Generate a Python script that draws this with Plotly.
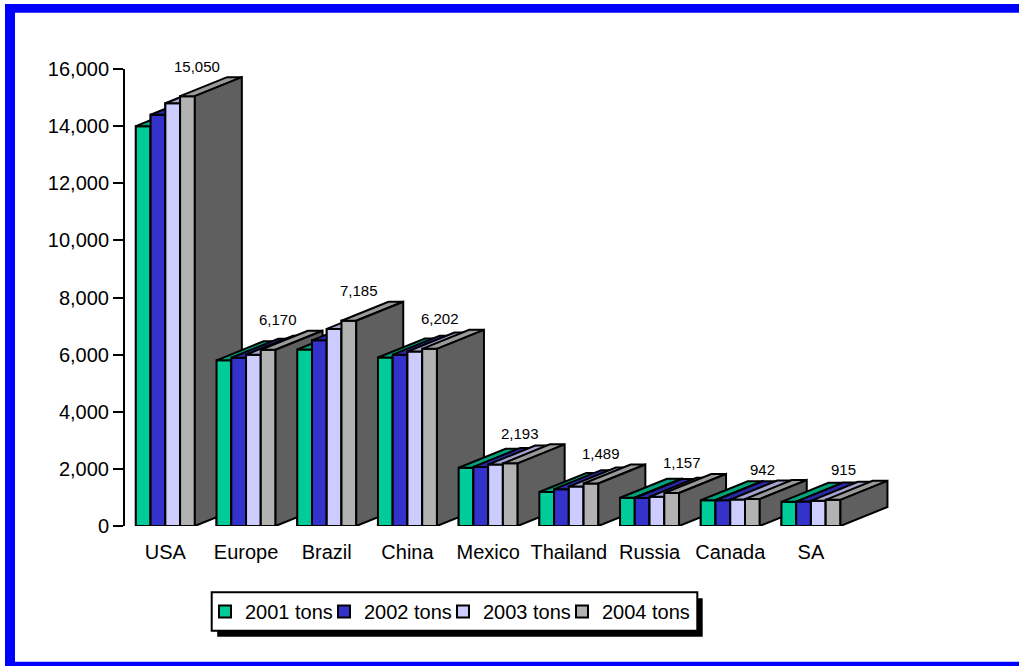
import plotly.graph_objects as go

# ---------------- data ----------------
categories = ["USA", "Europe", "Brazil", "China", "Mexico", "Thailand", "Russia", "Canada", "SA"]
series_names = ["2001 tons", "2002 tons", "2003 tons", "2004 tons"]
tons_2001 = [14000, 5800, 6180, 5900, 2040, 1190, 990, 900, 845]
tons_2002 = [14400, 5890, 6500, 6000, 2070, 1290, 980, 900, 855]
tons_2003 = [14800, 6000, 6900, 6110, 2150, 1380, 1020, 925, 880]
tons_2004 = [15050, 6170, 7185, 6202, 2193, 1489, 1157, 942, 915]
y_tick_vals = [0, 2000, 4000, 6000, 8000, 10000, 12000, 14000, 16000]

series_values = [tons_2001, tons_2002, tons_2003, tons_2004]

# ---------------- style ----------------
front_colors = ["#00CC99", "#3333CC", "#CCCCFF", "#B2B2B2"]
top_colors = ["#00A37A", "#2929A3", "#A3A3CC", "#999999"]
side_colors = ["#006B50", "#1F1F7A", "#7A7A99", "#5F5F5F"]
FONT = "Liberation Sans, Arial, sans-serif"

W, H = 1019, 666
L, R, T, B = 125, 87, 69, 140
PW = W - L - R
PH = H - T - B
YMAX = 16000
X0, X1 = -0.5, 9.5

px_per_x = PW / (X1 - X0)
px_per_y = PH / YMAX

BAR_W = 14.75 / px_per_x          # width of one bar in x units
DEPTH_X = 47 / px_per_x           # oblique depth offset
DEPTH_Y = 19 / px_per_y


def paper_x(px):
    return (px - L) / PW


def paper_y(py):
    return (H - B - py) / PH


fig = go.Figure()

# real bars (front faces) - also provide the legend entries
for j, (name, vals) in enumerate(zip(series_names, series_values)):
    fig.add_trace(go.Bar(
        x=list(range(len(categories))), y=vals, name=name,
        width=BAR_W, offset=-2 * BAR_W + j * BAR_W,
        marker=dict(color=front_colors[j], line=dict(color="black", width=2)),
        hoverinfo="skip", showlegend=True,
    ))
# invisible spacer entry so the last legend label is not clipped
fig.add_trace(go.Bar(x=[None], y=[None], name=" ", showlegend=True, hoverinfo="skip",
                     marker=dict(color="rgba(0,0,0,0)", line=dict(width=0))))

# 3-D faces drawn in painter's order (left to right)
LINE = dict(color="black", width=2)
for i in range(len(categories)):
    for j, vals in enumerate(series_values):
        v = vals[i]
        xl = i - 2 * BAR_W + j * BAR_W
        xr = xl + BAR_W
        # front
        fig.add_trace(go.Scatter(
            x=[xl, xr, xr, xl, xl], y=[0, 0, v, v, 0], mode="lines",
            fill="toself", fillcolor=front_colors[j], line=LINE,
            showlegend=False, hoverinfo="skip"))
        # top
        fig.add_trace(go.Scatter(
            x=[xl, xr, xr + DEPTH_X, xl + DEPTH_X, xl],
            y=[v, v, v + DEPTH_Y, v + DEPTH_Y, v], mode="lines",
            fill="toself", fillcolor=top_colors[j], line=LINE,
            showlegend=False, hoverinfo="skip"))
        # right side
        fig.add_trace(go.Scatter(
            x=[xr, xr, xr + DEPTH_X, xr + DEPTH_X, xr],
            y=[0, v, v + DEPTH_Y, DEPTH_Y, 0], mode="lines",
            fill="toself", fillcolor=side_colors[j], line=LINE,
            showlegend=False, hoverinfo="skip"))

# data labels for the last series
for i, v in enumerate(tons_2004):
    xc = i - 2 * BAR_W + 3.5 * BAR_W
    fig.add_annotation(x=xc, y=v, text=f"{v:,}", showarrow=False,
                       xshift=10, yshift=30, yanchor="middle",
                       font=dict(family=FONT, size=15, color="black"))

shapes = []
BLUE = "#0000FF"
# blue frame (right side is cropped in the reference)
shapes.append(dict(type="rect", xref="paper", yref="paper", layer="below",
                   x0=paper_x(5), x1=paper_x(1040), y0=paper_y(4), y1=paper_y(12.7),
                   fillcolor=BLUE, line=dict(width=0)))
shapes.append(dict(type="rect", xref="paper", yref="paper", layer="below",
                   x0=paper_x(5), x1=paper_x(15), y0=paper_y(4), y1=paper_y(680),
                   fillcolor=BLUE, line=dict(width=0)))
shapes.append(dict(type="rect", xref="paper", yref="paper", layer="below",
                   x0=paper_x(5), x1=paper_x(1040), y0=paper_y(661.7), y1=paper_y(680),
                   fillcolor=BLUE, line=dict(width=0)))
# legend frame with drop shadow
shapes.append(dict(type="rect", xref="paper", yref="paper", layer="above",
                   x0=paper_x(217.2), x1=paper_x(702.7), y0=paper_y(598.3), y1=paper_y(636.7),
                   fillcolor="black", line=dict(width=0)))
shapes.append(dict(type="rect", xref="paper", yref="paper", layer="above",
                   x0=paper_x(211.7), x1=paper_x(697.3), y0=paper_y(592.3), y1=paper_y(630.7),
                   fillcolor="white", line=dict(color="black", width=2)))

fig.update_layout(
    width=W, height=H,
    margin=dict(l=L, r=R, t=T, b=B, pad=0),
    paper_bgcolor="white", plot_bgcolor="rgba(0,0,0,0)",
    barmode="overlay",
    font=dict(family=FONT, size=20, color="black"),
    showlegend=True,
    legend=dict(orientation="h", x=paper_x(205), xanchor="left",
                y=paper_y(611.5), yanchor="middle",
                bgcolor="rgba(0,0,0,0)", borderwidth=0,
                entrywidth=74, entrywidthmode="pixels", itemwidth=30,
                font=dict(family=FONT, size=20, color="black"),
                traceorder="normal"),
    shapes=shapes,
    hovermode=False,
)

fig.update_xaxes(range=[X0, X1], tickvals=list(range(len(categories))), ticktext=categories,
                 showgrid=False, zeroline=False, showline=False, ticks="",
                 ticklabelstandoff=12, tickfont=dict(family=FONT, size=20, color="black"),
                 fixedrange=True)
fig.update_yaxes(range=[0, YMAX], tickvals=y_tick_vals, tickformat=",d",
                 showgrid=False, zeroline=False, showline=True, linecolor="black", linewidth=2,
                 ticks="outside", ticklen=10, tickwidth=2, tickcolor="black",
                 tickfont=dict(family=FONT, size=20, color="black"), fixedrange=True)

fig.write_html("out.html")
